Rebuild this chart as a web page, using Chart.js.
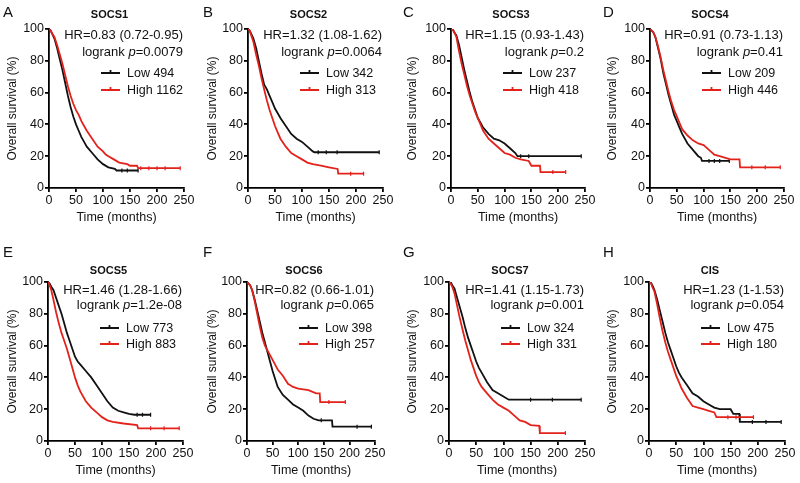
<!DOCTYPE html>
<html>
<head>
<meta charset="utf-8">
<script src="https://cdn.jsdelivr.net/npm/chart.js@4.4.1/dist/chart.umd.min.js"></script>
<style>
  body { margin: 0; background: #fff; width: 800px; height: 483px; position: relative; overflow: hidden; }
  canvas { position: absolute; }
</style>
</head>
<body>
<script>
// Kaplan-Meier curves, [months, survival %]
const socs1Low = [[0,100],[3,99],[6,97],[10,94],[15,88],[20,81],[25,74],[30,66],[35,58],[40,51],[45,45],[50,40],[55,36],[60,32],[65,29],[70,26],[80,22],[90,18],[100,15],[110,13],[122,12],[125,11],[165,11]];
const socs1High = [[0,100],[3,99],[6,97],[10,95],[15,90],[20,84],[25,78],[30,71],[35,64],[40,58],[45,53],[50,49],[55,46],[60,42],[65,39],[70,36],[80,31],[90,26],[100,23],[105,21],[110,20],[120,18],[130,16],[145,15],[150,14],[163,14],[165,12.5],[243,12.5]];
const socs2Low = [[0,100],[3,99],[6,97],[10,94],[15,88],[20,80],[25,72],[30,65],[35,62],[40,58],[45,54],[50,50],[55,47],[60,44],[70,39],[80,34],[90,31],[100,29],[110,26],[120,23],[123,22.5],[243,22.5]];
const socs2High = [[0,100],[3,99],[6,96],[10,92],[15,84],[20,77],[25,69],[30,62],[35,55],[40,49],[45,44],[50,39],[55,35],[60,31],[70,26],[80,22],[90,20],[100,18],[110,16],[120,15],[135,14],[150,13],[166,12],[167,9],[214,9]];
const socs3Low = [[0,100],[3,100],[6,98],[10,96],[15,90],[20,82],[25,74],[30,67],[35,60],[40,54],[45,49],[50,44],[55,41],[60,38],[70,34],[80,31],[90,30],[100,28],[110,25],[120,22],[124,20],[243,20]];
const socs3High = [[0,100],[3,100],[6,98],[10,95],[15,86],[20,78],[25,71],[30,64],[35,58],[40,53],[45,48],[50,44],[55,40],[60,36],[70,31],[80,28],[90,25],[100,22],[110,21],[120,19],[130,18],[145,17],[150,14],[166,14],[167,10],[214,10]];
const socs4Low = [[0,100],[3,99],[6,98],[10,95],[15,88],[20,81],[25,72],[30,65],[35,58],[40,52],[45,46],[50,42],[55,38],[60,34],[70,28],[80,24],[90,20],[95,19],[97,17],[148,17]];
const socs4High = [[0,100],[3,99],[6,98],[10,95],[15,89],[20,82],[25,74],[30,67],[35,60],[40,54],[45,49],[50,45],[55,41],[60,37],[70,33],[80,30],[90,28],[100,27],[110,24],[120,21],[130,20],[150,18],[167,18],[168,13],[243,13]];
const socs5Low = [[0,100],[3,99],[6,97],[10,95],[15,90],[20,85],[25,80],[30,74],[35,68],[40,63],[45,58],[50,53],[55,50],[60,48],[70,44],[80,40],[90,35],[100,30],[110,25],[120,21],[130,19],[140,18],[150,17],[160,16.5],[190,16.5]];
const socs5High = [[0,100],[3,98],[6,95],[10,89],[15,81],[20,74],[25,68],[30,63],[35,58],[40,52],[45,46],[50,40],[55,35],[60,31],[70,25],[80,21],[90,18],[100,15],[110,13],[120,12],[140,11],[165,10],[167,8],[243,8]];
const socs6Low = [[0,100],[3,99],[6,98],[10,95],[15,89],[20,82],[25,75],[30,68],[35,62],[40,56],[45,50],[50,44],[55,39],[60,34],[70,29],[80,26],[90,23],[100,21],[110,19],[120,16],[130,14],[140,13],[166,13],[167,9],[243,9]];
const socs6High = [[0,100],[3,99],[6,98],[10,95],[15,88],[20,80],[25,72],[30,65],[35,60],[40,57],[45,54],[50,51],[55,48],[60,45],[70,41],[80,36],[90,34],[100,33],[120,32],[135,30],[142,30],[143,24.5],[192,24.5]];
const socs7Low = [[0,100],[3,100],[6,98],[10,96],[15,90],[20,84],[25,78],[30,71],[35,65],[40,60],[45,55],[50,50],[55,46],[60,43],[70,37],[80,32],[90,30],[100,28],[110,26],[243,26]];
const socs7High = [[0,100],[3,99],[6,97],[10,93],[15,85],[20,77],[25,70],[30,63],[35,57],[40,51],[45,46],[50,41],[55,37],[60,34],[70,30],[80,26],[90,23],[100,21],[110,19],[120,16],[130,13],[140,12],[150,10],[166,9.5],[167,5],[214,5]];
const cisLow = [[0,100],[3,100],[6,98],[10,95],[15,89],[20,82],[25,75],[30,68],[35,62],[40,57],[45,52],[50,47],[55,43],[60,40],[70,35],[80,30],[90,28],[100,25],[110,23],[120,21],[130,20],[150,20],[155,17],[166,17],[167,12],[243,12]];
const cisHigh = [[0,100],[3,100],[6,97],[10,94],[15,86],[20,77],[25,69],[30,62],[35,56],[40,51],[45,46],[50,41],[55,37],[60,33],[70,27],[80,22],[90,21],[100,20],[110,19],[120,18],[124,15],[192,15]];

// censored observations (tick marks)
const socs1LowCens = [[135,11],[145,11],[165,11]];
const socs1HighCens = [[170,12.5],[185,12.5],[200,12.5],[215,12.5],[243,12.5]];
const socs2LowCens = [[130,22.5],[145,22.5],[165,22.5],[243,22.5]];
const socs2HighCens = [[190,9],[214,9]];
const socs3LowCens = [[130,20],[145,20],[243,20]];
const socs3HighCens = [[190,10],[214,10]];
const socs4LowCens = [[110,17],[120,17],[130,17],[148,17]];
const socs4HighCens = [[190,13],[215,13],[243,13]];
const socs5LowCens = [[165,16.5],[175,16.5],[190,16.5]];
const socs5HighCens = [[190,8],[215,8],[243,8]];
const socs6LowCens = [[145,13],[215,9],[243,9]];
const socs6HighCens = [[160,24.5],[192,24.5]];
const socs7LowCens = [[150,26],[190,26],[243,26]];
const socs7HighCens = [[214,5]];
const cisLowCens = [[190,12],[215,12],[243,12]];
const cisHighCens = [[145,15],[160,15],[192,15]];

const letters = ['A', 'B', 'C', 'D', 'E', 'F', 'G', 'H'];
const genes = ['SOCS1', 'SOCS2', 'SOCS3', 'SOCS4', 'SOCS5', 'SOCS6', 'SOCS7', 'CIS'];
const hrLabels = ['HR=0.83 (0.72-0.95)', 'HR=1.32 (1.08-1.62)', 'HR=1.15 (0.93-1.43)', 'HR=0.91 (0.73-1.13)',
                  'HR=1.46 (1.28-1.66)', 'HR=0.82 (0.66-1.01)', 'HR=1.41 (1.15-1.73)', 'HR=1.23 (1-1.53)'];
const pValues = ['0.0079', '0.0064', '0.2', '0.41', '1.2e-08', '0.065', '0.001', '0.054'];
const lowN = [494, 342, 237, 209, 773, 398, 324, 475];
const highN = [1162, 313, 418, 446, 883, 257, 331, 180];
const lowCurves = [socs1Low, socs2Low, socs3Low, socs4Low, socs5Low, socs6Low, socs7Low, cisLow];
const highCurves = [socs1High, socs2High, socs3High, socs4High, socs5High, socs6High, socs7High, cisHigh];
const lowCens = [socs1LowCens, socs2LowCens, socs3LowCens, socs4LowCens, socs5LowCens, socs6LowCens, socs7LowCens, cisLowCens];
const highCens = [socs1HighCens, socs2HighCens, socs3HighCens, socs4HighCens, socs5HighCens, socs6HighCens, socs7HighCens, cisHighCens];
const xTicks = [0, 50, 100, 150, 200, 250];
const yTicks = [0, 20, 40, 60, 80, 100];

// plot areas on the page (left, right, top, bottom)
const areas = [
  [49, 184, 29, 188], [248, 383, 29, 188], [451, 585, 29, 188], [650, 784, 29, 188],
  [48, 183, 282, 441], [247, 375, 282, 441], [449, 585, 282, 441], [649, 785, 282, 441]
];

const BLACK = '#111';
const RED = '#e3221c';
const FONT = "Arial, 'Liberation Sans', sans-serif";
const pts = arr => arr.map(([x, y]) => ({ x, y }));

// panel letter, gene, HR / logrank text and legend
const annot = {
  id: 'annot',
  afterDraw(chart, args, o) {
    const i = o.idx, row = i < 4 ? 0 : 1;
    const { ctx, chartArea: { left, right, top } } = chart;
    ctx.save();
    ctx.fillStyle = BLACK;
    ctx.textBaseline = 'middle';

    ctx.font = `15px ${FONT}`;
    ctx.textAlign = 'left';
    ctx.fillText(letters[i], 3, 13);

    ctx.font = `bold 11px ${FONT}`;
    ctx.textAlign = 'center';
    ctx.fillText(genes[i], (left + right) / 2 - 7, top - (row ? 11 : 14));

    ctx.font = `13px ${FONT}`;
    ctx.textAlign = 'right';
    ctx.fillText(hrLabels[i], right - 1, top + (row ? 8 : 6));

    // logrank p=...
    const yP = top + 23;
    const a = 'logrank ', b = 'p', c = '=' + pValues[i];
    ctx.textAlign = 'left';
    ctx.font = `13px ${FONT}`;
    const wa = ctx.measureText(a).width, wc = ctx.measureText(c).width;
    ctx.font = `italic 13px ${FONT}`;
    const wb = ctx.measureText(b).width;
    const x = right - 1 - wa - wb - wc;
    ctx.font = `13px ${FONT}`;
    ctx.fillText(a, x, yP);
    ctx.font = `italic 13px ${FONT}`;
    ctx.fillText(b, x + wa, yP);
    ctx.font = `13px ${FONT}`;
    ctx.fillText(c, x + wa + wb, yP);

    // legend
    const items = [['Low ' + lowN[i], BLACK, top + (row ? 46 : 44)], ['High ' + highN[i], RED, top + (row ? 62 : 61)]];
    ctx.font = `12.5px ${FONT}`;
    items.forEach(([txt, col, y]) => {
      ctx.strokeStyle = col;
      ctx.lineWidth = 1.8;
      ctx.beginPath();
      ctx.moveTo(left + 52, y);
      ctx.lineTo(left + 71, y);
      ctx.moveTo(left + 61.5, y);
      ctx.lineTo(left + 61.5, y - 3);
      ctx.stroke();
      ctx.fillStyle = BLACK;
      ctx.fillText(txt, left + 78, y + 1);
    });
    ctx.restore();
  }
};

areas.forEach(([l, r, t, b], i) => {
  const ox = (i % 4) * 200, oy = i < 4 ? 0 : 240;
  const w = 200, h = i < 4 ? 240 : 243;
  const cv = document.createElement('canvas');
  cv.width = w; cv.height = h;
  cv.style.left = ox + 'px'; cv.style.top = oy + 'px';
  document.body.appendChild(cv);

  const curve = (data, col, order) => ({
    data: pts(data), borderColor: col, borderWidth: 1.8, tension: 0,
    pointRadius: 0, fill: false, order
  });
  const cens = (data, col, order) => ({
    data: pts(data), borderColor: col, showLine: false, pointStyle: 'line',
    rotation: 90, pointRadius: 2, pointBorderWidth: 1.2, order
  });

  new Chart(cv, {
    type: 'line',
    data: {
      datasets: [
        curve(highCurves[i], RED, 1),
        curve(lowCurves[i], BLACK, 2),
        cens(highCens[i], RED, 1),
        cens(lowCens[i], BLACK, 2)
      ]
    },
    options: {
      responsive: false,
      animation: false,
      events: [],
      layout: { padding: { left: 0, top: t - oy, right: ox + w - r, bottom: h - (b - oy) - 40 } },
      plugins: { legend: { display: false }, tooltip: { enabled: false }, annot: { idx: i } },
      scales: {
        x: {
          type: 'linear', min: 0, max: 250,
          afterBuildTicks: s => { s.ticks = xTicks.map(v => ({ value: v })); },
          afterFit: s => { s.height = 40; },
          border: { color: '#000', width: 1.8 },
          grid: { drawOnChartArea: false, drawTicks: true, tickLength: 4, color: '#000', lineWidth: 1.8 },
          ticks: { color: BLACK, padding: 1, maxRotation: 0, font: { family: FONT, size: 12.5 } },
          title: { display: true, text: 'Time (months)', color: BLACK, padding: { top: 0, bottom: 3 }, font: { family: FONT, size: 12.5 } }
        },
        y: {
          type: 'linear', min: 0, max: 100,
          afterBuildTicks: s => { s.ticks = yTicks.map(v => ({ value: v })); },
          afterFit: s => { s.width = l - ox; },
          border: { color: '#000', width: 1.8 },
          grid: { drawOnChartArea: false, drawTicks: true, tickLength: 4, color: '#000', lineWidth: 1.8 },
          ticks: { color: BLACK, padding: 1, font: { family: FONT, size: 12.5 } },
          title: { display: true, text: 'Overall survival (%)', color: BLACK, padding: { top: 5, bottom: 0 }, font: { family: FONT, size: 12 } }
        }
      }
    },
    plugins: [annot]
  });
});
</script>
</body>
</html>
